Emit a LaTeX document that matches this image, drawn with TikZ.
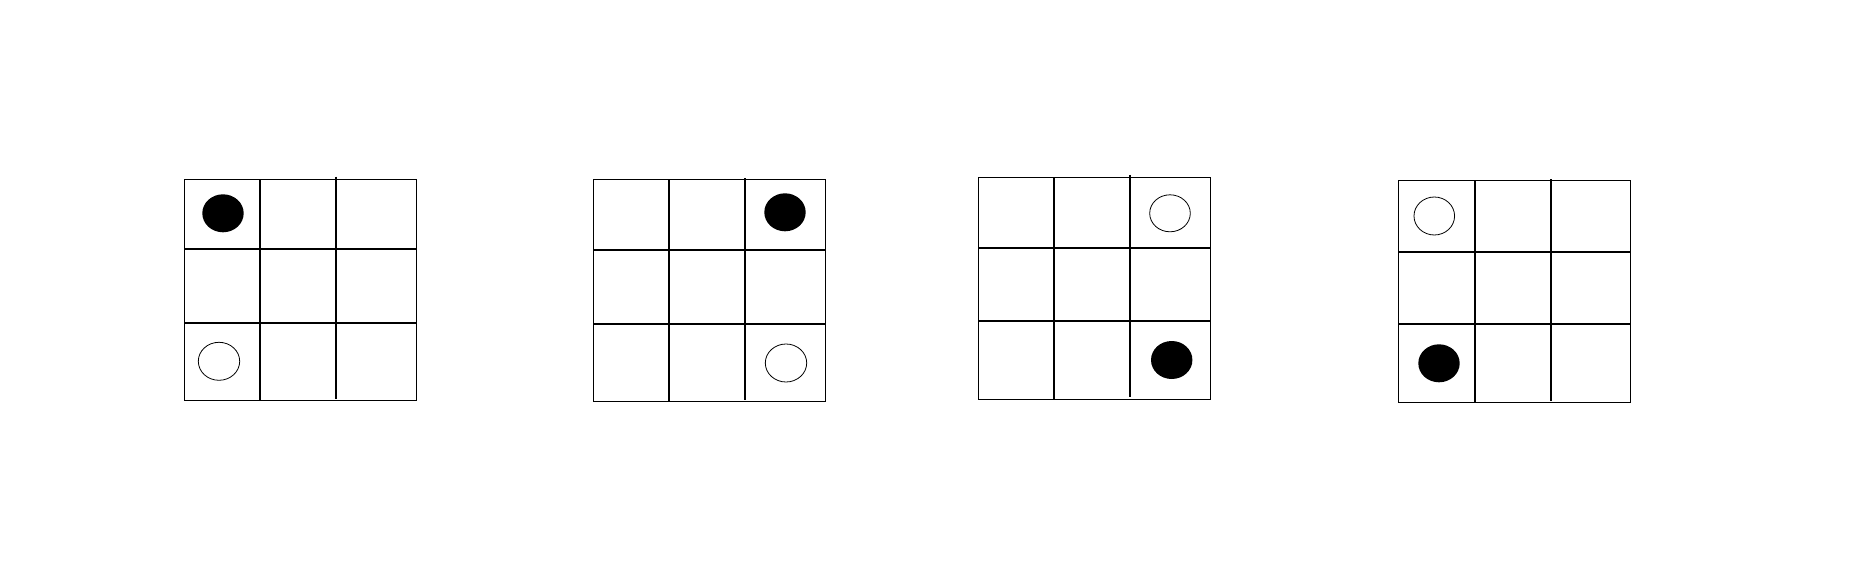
\documentclass[tikz,border=0pt]{standalone}
\begin{document}
\begin{tikzpicture}[x=1pt,y=-1pt,
  outer/.style={draw=black,line width=1pt},
  inner/.style={draw=black,line width=2pt},
  blackstone/.style={fill=black},
  whitestone/.style={draw=black,line width=0.8pt}]
\useasboundingbox (0,0) rectangle (1861,580);
% grid 1
\draw[outer] (184.3,179.3) rectangle (416.7,400.7);
\draw[inner] (260,179.3) -- (260,400.7);
\draw[inner] (336,176.7) -- (336,399.3);
\draw[inner] (184.3,249.3) -- (416.7,249.3);
\draw[inner] (184.3,323) -- (416.7,323);
\fill[blackstone] (223,213.3) ellipse [x radius=20.7,y radius=19];
\draw[whitestone] (219,361.3) ellipse [x radius=20.7,y radius=19];
% grid 2
\draw[outer] (593.3,179.3) rectangle (825.7,401.3);
\draw[inner] (668.7,179.3) -- (668.7,401.3);
\draw[inner] (744.7,178.3) -- (744.7,400);
\draw[inner] (593.3,250) -- (825.7,250);
\draw[inner] (593.3,324) -- (825.7,324);
\fill[blackstone] (785,212.3) ellipse [x radius=20.7,y radius=19];
\draw[whitestone] (786,363) ellipse [x radius=20.7,y radius=19];
% grid 3
\draw[outer] (978.3,177.3) rectangle (1210.7,399.3);
\draw[inner] (1053.7,177.3) -- (1053.7,399.3);
\draw[inner] (1130.3,175) -- (1130.3,397.3);
\draw[inner] (978.3,248) -- (1210.7,248);
\draw[inner] (978.3,321) -- (1210.7,321);
\draw[whitestone] (1170,213.3) ellipse [x radius=20.3,y radius=18.5];
\fill[blackstone] (1171.7,360) ellipse [x radius=20.7,y radius=19];
% grid 4
\draw[outer] (1398.3,180.7) rectangle (1630,402.7);
\draw[inner] (1475.3,180.7) -- (1475.3,402.7);
\draw[inner] (1551,179.3) -- (1551,401.3);
\draw[inner] (1398.3,251.7) -- (1630,251.7);
\draw[inner] (1398.3,323.7) -- (1630,323.7);
\draw[whitestone] (1434.3,216) ellipse [x radius=20.3,y radius=19];
\fill[blackstone] (1439,363.3) ellipse [x radius=20.7,y radius=19];
\end{tikzpicture}
\end{document}
